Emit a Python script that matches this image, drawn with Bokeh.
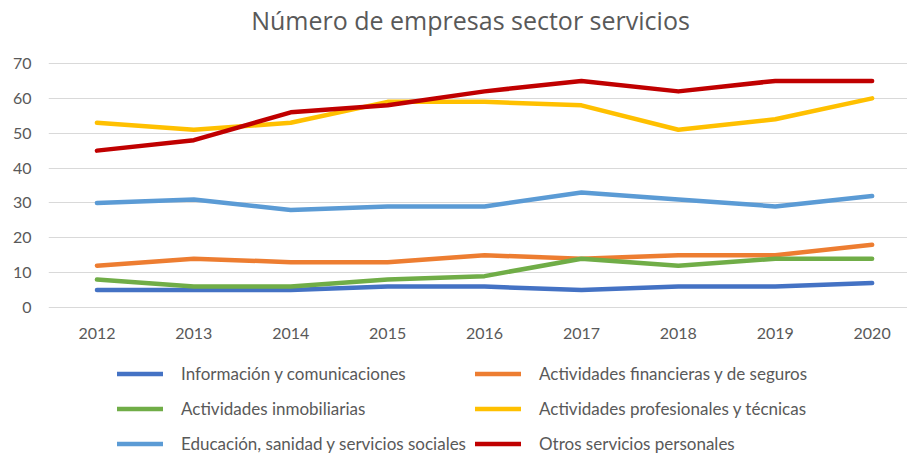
from bokeh.plotting import figure
from bokeh.models import Range1d, FixedTicker, Legend, LegendItem, Label
from bokeh.embed import file_html
from bokeh.resources import INLINE

years = [2012, 2013, 2014, 2015, 2016, 2017, 2018, 2019, 2020]
informacion = [5, 5, 5, 6, 6, 5, 6, 6, 7]
financieras = [12, 14, 13, 13, 15, 14, 15, 15, 18]
inmobiliarias = [8, 6, 6, 8, 9, 14, 12, 14, 14]
profesionales = [53, 51, 53, 59, 59, 58, 51, 54, 60]
educacion = [30, 31, 28, 29, 29, 33, 31, 29, 32]
otros = [45, 48, 56, 58, 62, 65, 62, 65, 65]

series_names = [
    "Información y comunicaciones",
    "Actividades financieras y de seguros",
    "Actividades inmobiliarias",
    "Actividades profesionales y técnicas",
    "Educación, sanidad y servicios sociales",
    "Otros servicios personales",
]
series_values = [informacion, financieras, inmobiliarias, profesionales, educacion, otros]
series_colors = ["#4472C4", "#ED7D31", "#70AD47", "#FFC000", "#5B9BD5", "#C00000"]
y_ticks = [0, 10, 20, 30, 40, 50, 60, 70]
title_text = "Número de empresas sector servicios"

TXT = "#595959"
FONT = "Lato"

# frame spans the full canvas height; the value axis 0..70 occupies the middle band
p = figure(width=907, height=457, output_backend="svg", toolbar_location=None,
           x_range=Range1d(2011.5, 2020.365), y_range=Range1d(-43.03, 88.07),
           min_border_left=48, min_border_right=0, min_border_top=0, min_border_bottom=0)
p.outline_line_color = None
p.background_fill_color = "white"
p.border_fill_color = "white"

p.xgrid.grid_line_color = None
p.ygrid.grid_line_color = "#D9D9D9"
p.ygrid.grid_line_width = 1.2
p.ygrid.ticker = FixedTicker(ticks=y_ticks)

for ax in (p.xaxis, p.yaxis):
    ax.axis_line_color = None
    ax.major_tick_line_color = None
    ax.minor_tick_line_color = None
    ax.major_label_text_color = TXT
    ax.major_label_text_font = FONT
    ax.major_label_text_font_size = "16px"
p.xaxis.ticker = FixedTicker(ticks=years)
p.xaxis.fixed_location = 0
p.yaxis.ticker = FixedTicker(ticks=y_ticks)
p.xaxis.major_label_standoff = 14
p.yaxis.major_label_standoff = 11

items = []
for name, vals, col in zip(series_names, series_values, series_colors):
    r = p.line(years, vals, line_color=col, line_width=4.5, line_cap="round", line_join="round")
    items.append(LegendItem(label=name, renderers=[r]))

legend = Legend(items=items, location=(69, -3.5), orientation="horizontal", ncols=2,
                padding=0, margin=0, spacing=0, border_line_color=None,
                background_fill_alpha=0, glyph_width=46, glyph_height=35,
                label_height=35, label_width=294, label_standoff=18,
                label_text_font=FONT, label_text_font_size="17px", label_text_color=TXT)
p.add_layout(legend, "center")

title = Label(x=422, y=438, x_units="screen", y_units="screen", text=title_text,
              text_align="center", text_baseline="middle", text_font="Open Sans",
              text_font_size="25px", text_color=TXT)
p.add_layout(title)

open("out.html", "w").write(file_html(p, INLINE))
